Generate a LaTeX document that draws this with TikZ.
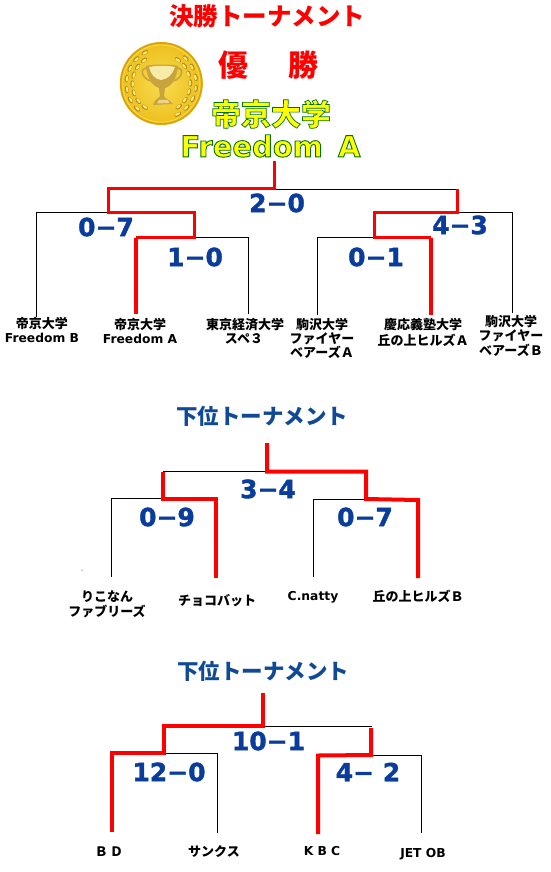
\documentclass[tikz,border=0pt]{standalone}
\usepackage{fontspec}
\setmainfont{DejaVu Sans}
\newfontfamily\jp{Noto Sans CJK JP}
\newfontfamily\jpblk{Noto Sans CJK JP Black}
\newfontfamily\scf[FakeBold=1.5]{DejaVu Sans Bold}
\definecolor{scoreblue}{HTML}{0A3C9C}
\definecolor{titleblue}{HTML}{104A96}
\definecolor{wred}{HTML}{FF0000}
\definecolor{gold}{HTML}{EDBE1C}
\definecolor{goldhi}{HTML}{F8DC50}
\definecolor{goldlo}{HTML}{D9A30E}
\definecolor{leafdark}{HTML}{B98A10}
\definecolor{leaflight}{HTML}{FBEB78}
\definecolor{cupdark}{HTML}{C9A43C}
\definecolor{cuplight}{HTML}{F6EBA8}
\newcommand{\outl}[2]{\special{pdf:code 2 Tr #1 w 0 0.45 0.05 RG 1 1 0 rg}#2\special{pdf:code 0 Tr}}
\tikzset{
  x=1pt,y=-1pt,
  thin line/.style={draw=black,line width=1pt},
  win/.style={draw=wred,line width=3pt,line join=miter},
  winb/.style={draw=wred,line width=4pt,line join=miter},
  lab/.style={inner sep=0pt,align=center,font=\jp\bfseries\fontsize{13}{14}\selectfont},
  latin/.style={inner sep=0pt,font=\bfseries\fontsize{12.3}{14}\selectfont},
  score/.style={inner sep=0pt,text=scoreblue,font=\scf\fontsize{25}{26}\selectfont},
  redtitle/.style={inner sep=0pt,text=wred,font=\jp\bfseries\fontsize{24.5}{28}\selectfont},
  bluetitle/.style={inner sep=0pt,text=titleblue,font=\jp\bfseries\fontsize{21.5}{24}\selectfont},
}
\begin{document}
\begin{tikzpicture}
\useasboundingbox[fill=white] (0,0) rectangle (550,872);
% titles
\node[redtitle] (t1) at (267,16) {決勝トーナメント};
\node[inner sep=0pt,text=wred,font=\jp\bfseries\fontsize{30}{32}\selectfont] (yu) at (233,65) {優};
\node[inner sep=0pt,text=wred,font=\jp\bfseries\fontsize{30}{32}\selectfont] (sho) at (303,65) {勝};
\node[inner sep=0pt,font=\jpblk\fontsize{30}{32}\selectfont] (teikyo) at (271,114) {\outl{0.7}{帝京大学}};
\node[inner sep=0pt,font=\bfseries\fontsize{29}{32}\selectfont] (fa) at (270.5,146) {\outl{0.9}{Freedom\hspace{5pt} A}};
\node[bluetitle] (t2) at (262,416) {下位トーナメント};
\node[bluetitle] (t3) at (263,671) {下位トーナメント};
% medal
\coordinate (m) at (161.3,83.5);
\shade[inner color=goldhi,outer color=gold] (m) circle[radius=41.5];
\draw[draw=goldlo,line width=1.6pt] (m) circle[radius=40.5];
\draw[draw=goldhi,line width=.8pt] (m) circle[radius=38.6];
% wreath: two rows of leaves up each side, open at the top
\foreach \a in {-62,-44,...,62,118,136,...,242}{
  \fill[leafdark,rotate around={\a:(m)}] ([xshift=35pt]m) ellipse[x radius=2,y radius=3.8];
  \fill[leaflight,rotate around={\a:(m)}] ([xshift=34.6pt]m) ellipse[x radius=1.2,y radius=2.8];
}
\foreach \a in {-53,-35,...,55,127,145,...,235}{
  \fill[leafdark,rotate around={\a:(m)}] ([xshift=29pt]m) ellipse[x radius=2,y radius=3.8];
  \fill[leaflight,rotate around={\a:(m)}] ([xshift=28.6pt]m) ellipse[x radius=1.2,y radius=2.8];
}
% trophy
\draw[cupdark,line width=1.6pt] (147,68) .. controls (139,68) and (142,79) .. (151,81);
\draw[cupdark,line width=1.6pt] (177,68) .. controls (185,68) and (182,79) .. (173,81);
\fill[cupdark] (146,66) .. controls (152,64) and (172,64) .. (178,66)
  .. controls (177,78) and (172,86) .. (165,88) -- (164,96) .. controls (165,99) and (170,100) .. (173,104)
  -- (153,105) .. controls (154,100) and (158,99) .. (160,96) -- (159,88)
  .. controls (152,86) and (147,78) .. (146,66) -- cycle;
\fill[cuplight] (149,67) .. controls (155,65.5) and (169,65.5) .. (175,67)
  .. controls (172,75) and (168,79) .. (161,80) .. controls (154,79) and (151,74) .. (149,67) -- cycle;
\fill[cuplight!70!cupdark] (159,100) -- (168,100) -- (169,103) -- (157,103.5) -- cycle;
% scores
\node[score] (s1) at (277,203) {2−0};
\node[score] (s2) at (106,227) {0−7};
\node[score] (s3) at (195,257) {1−0};
\node[score] (s4) at (376,257) {0−1};
\node[score] (s5) at (460,225) {4−3};
\node[score] (s6) at (268,489) {3−4};
\node[score] (s7) at (167,517) {0−9};
\node[score] (s8) at (365,517) {0−7};
\node[score] (s9) at (268.5,741) {10−1};
\node[score] (s10) at (169,772) {12−0};
\node[score] (s11) at (368,772) {4− 2};
% labels
\node[lab] (a1) at (42,324) {帝京大学};
\node[latin] (a1b) at (42,338) {Freedom B};
\node[lab] (a2) at (140,325) {帝京大学};
\node[latin] (a2b) at (140,339) {Freedom A};
\node[lab] (a3) at (245,325) {東京経済大学};
\node[lab] (a3b) at (244,339) {スペ３};
\node[lab] (a4) at (322,325) {駒沢大学};
\node[lab] (a4b) at (322,338.5) {ファイヤー};
\node[lab] (a4c) at (322,352) {ベアーズＡ};
\node[lab] (a5) at (423,325) {慶応義塾大学};
\node[lab] (a5b) at (423,340) {丘の上ヒルズＡ};
\node[lab] (a6) at (511,322) {駒沢大学};
\node[lab] (a6b) at (511,336) {ファイヤー};
\node[lab] (a6c) at (511,350) {ベアーズＢ};
\node[lab] (b1) at (107,597) {りこなん};
\node[lab] (b1b) at (107,611) {ファブリーズ};
\node[lab] (b2) at (217,601) {チョコバット};
\node[latin] (b3) at (313,597) {C.natty};
\node[lab] (b4) at (418,596) {丘の上ヒルズＢ};
\node[lab] (c1) at (109,852) {Ｂ\,Ｄ};
\node[lab] (c2) at (214,852) {サンクス};
\node[latin] (c3) at (322,851) {K B C};
\node[latin] (c4) at (423,854) {JET OB};
\fill (82,570) circle[radius=.5];
% final bracket points
\coordinate (f0) at (274,161);
\coordinate (f1) at (274,188);
\coordinate (fL) at (108,188);
\coordinate (fLb) at (108,212);
\coordinate (fR) at (457,189);
\coordinate (fRb) at (457,212.5);
\coordinate (g1) at (36,212);
\coordinate (g1b) at (36,317);
\coordinate (g2) at (194,212);
\coordinate (g2b) at (194,237.5);
\coordinate (g3) at (136,237.5);
\coordinate (g3b) at (136,314);
\coordinate (g4) at (248,237.5);
\coordinate (g4b) at (248,314);
\coordinate (h1) at (512,212.5);
\coordinate (h1b) at (512,313);
\coordinate (h2) at (374,212.5);
\coordinate (h2b) at (374,237.5);
\coordinate (h3) at (317,237.5);
\coordinate (h3b) at (317,315);
\coordinate (h4) at (431,237.5);
\coordinate (h4b) at (431,315);
\draw[thin line] (fL|-fR) -- (fR);
\draw[thin line] (fLb) -- (g1) -- (g1b);
\draw[thin line] (g2b) -- (g4) -- (g4b);
\draw[thin line] (fRb) -- (h1) -- (h1b);
\draw[thin line] (h2b) -- (h3) -- (h3b);
\draw[win] (f0) -- (f1) -- (fL) -- (fLb) -- (g2) -- (g2b) -- (g3);
\draw[winb] (g3) -- (g3b);
\draw[win] (fR) -- (fRb) -- (h2) -- (h2b) -- (h4);
\draw[winb] (h4) -- (h4b);
% lower 1
\coordinate (p0) at (267,443);
\coordinate (p1) at (267,471.5);
\coordinate (pL) at (163,471.5);
\coordinate (pLb) at (163,498.5);
\coordinate (pR) at (366,471.5);
\coordinate (pRb) at (366,499);
\coordinate (q1) at (111,498.5);
\coordinate (q1b) at (111,577);
\coordinate (q2) at (216,498.5);
\coordinate (q2b) at (216,578);
\coordinate (q3) at (313,499);
\coordinate (q3b) at (313,577);
\coordinate (q4) at (418,500);
\coordinate (q4b) at (418,578);
\draw[thin line] (pL) -- (p1);
\draw[thin line] (pLb) -- (q1) -- (q1b);
\draw[thin line] (pRb) -- (q3) -- (q3b);
\draw[winb] (p0) -- (p1) -- (pR) -- (pRb) -- (q4) -- (q4b);
\draw[winb] (pL) -- (pLb) -- (q2) -- (q2b);
% lower 2
\coordinate (r0) at (263,693);
\coordinate (r1) at (263,726);
\coordinate (rL) at (164,726);
\coordinate (rLb) at (164,753);
\coordinate (rR) at (372,726);
\coordinate (rRt) at (371,728);
\coordinate (rRb) at (371,755);
\coordinate (u1) at (112,753);
\coordinate (u1b) at (112,832);
\coordinate (u2) at (217,753);
\coordinate (u2b) at (217,833);
\coordinate (u3) at (318,755.5);
\coordinate (u3b) at (318,834);
\coordinate (u4) at (421,755);
\coordinate (u4b) at (421,833);
\draw[thin line] (r1) -- (rR);
\draw[thin line] (rLb) -- (u2) -- (u2b);
\draw[thin line] (rRb|-u4) -- (u4) -- (u4b);
\draw[winb] (r0) -- (r1) -- (rL) -- (rLb) -- (u1) -- (u1b);
\draw[winb] (rRt) -- (rRb) -- (u3) -- (u3b);
\end{tikzpicture}
\end{document}
